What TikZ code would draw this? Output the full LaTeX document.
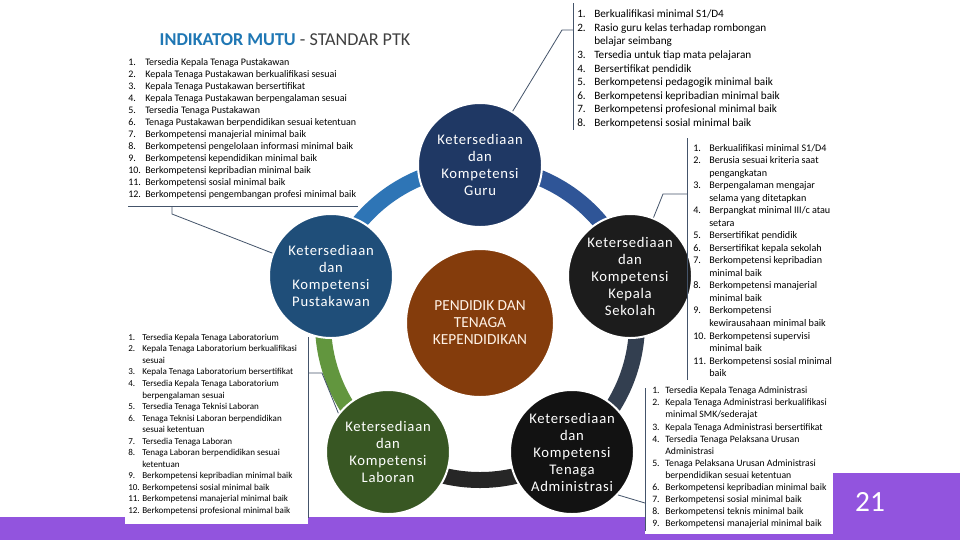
\documentclass[tikz,border=0pt]{standalone}
\usepackage{fontspec}
\setmainfont{Carlito}
\newfontfamily\spacedfont[LetterSpace=5]{Carlito}
\usepackage{tikz}
\definecolor{gurublue}{RGB}{31,56,100}
\definecolor{pusblue}{RGB}{31,78,121}
\definecolor{kepblack}{RGB}{28,28,28}
\definecolor{admblack}{RGB}{18,18,18}
\definecolor{labgreen}{RGB}{56,87,35}
\definecolor{ptkbrown}{RGB}{132,60,12}
\definecolor{ringa}{RGB}{46,117,182}
\definecolor{ringb}{RGB}{47,85,151}
\definecolor{ringc}{RGB}{51,63,80}
\definecolor{ringd}{RGB}{38,38,38}
\definecolor{ringe}{RGB}{98,150,62}
\definecolor{linegray}{RGB}{68,84,106}
\definecolor{titleblue}{RGB}{31,119,180}
\definecolor{titlegray}{RGB}{64,64,64}
\definecolor{slidepurple}{RGB}{146,84,222}
\definecolor{ptktext}{RGB}{255,242,230}

\begin{document}
\begin{tikzpicture}[x=0.75pt, y=-0.75pt,
    circ/.style={circle, draw=white, line width=1.5pt, minimum size=93pt, inner sep=0pt, text=white, align=center, font=\spacedfont\fontsize{11}{12.75}\selectfont},
    ring/.style={line width=12pt},
    lst/.style={anchor=north west, inner sep=0pt, align=left, text=black},
    brk/.style={draw=linegray, line width=0.6pt}
]
    \useasboundingbox (0,0) rectangle (960,540);
    \fill[white] (0,0) rectangle (960,540);

    % slide bar and page box
    \fill[slidepurple] (0,517) rectangle (960,540);
    \fill[slidepurple] (833,473) rectangle (960,540);
    \fill[white] (125,333) rectangle (308,524);
    \fill[white] (645,385) rectangle (833,534);

    % ring behind the circles
    \coordinate (hub) at (480,323);
    \foreach \a/\b/\c in {90/162/ringa, 18/90/ringb, -54/18/ringc, -126/-54/ringd, 162/234/ringe}
        \draw[ring, \c] (hub) ++(\a:117.75pt) arc[start angle=\a, end angle=\b, radius=117.75pt];

    \node[circ, fill=gurublue] (guru) at (480,165) {Ketersediaan\\dan\\Kompetensi\\Guru};
    \node[circ, fill=pusblue] (pustakawan) at (331,276) {Ketersediaan\\dan\\Kompetensi\\Pustakawan};
    \node[circ, fill=kepblack] (kepala) at (630,276) {Ketersediaan\\dan\\Kompetensi\\Kepala\\Sekolah};
    \node[circ, fill=admblack] (admin) at (572,452) {Ketersediaan\\dan\\Kompetensi\\Tenaga\\Administrasi};
    \node[circ, fill=labgreen] (laboran) at (388,452) {Ketersediaan\\dan\\Kompetensi\\Laboran};
    \node[circ, fill=ptkbrown, minimum size=111pt, text=ptktext, font=\fontsize{11.5}{12.75}\selectfont] (ptk) at (hub) {PENDIDIK DAN\\TENAGA\\KEPENDIDIKAN};

    \node[anchor=west, font=\fontsize{13.6}{16}\selectfont] (title) at (155,40) {\textcolor{titleblue}{\textbf{INDIKATOR MUTU}} \textcolor{titlegray}{- STANDAR PTK}};

    % lists
    \node[lst, font=\fontsize{7.5}{9}\selectfont] (pusList) at (128,57) {\begin{tabular}{@{}p{12.75pt}@{}l@{}}
        1. & Tersedia Kepala Tenaga Pustakawan\\
        2. & Kepala Tenaga Pustakawan berkualifikasi sesuai\\
        3. & Kepala Tenaga Pustakawan bersertifikat\\
        4. & Kepala Tenaga Pustakawan berpengalaman sesuai\\
        5. & Tersedia Tenaga Pustakawan\\
        6. & Tenaga Pustakawan berpendidikan sesuai ketentuan\\
        7. & Berkompetensi manajerial minimal baik\\
        8. & Berkompetensi pengelolaan informasi minimal baik\\
        9. & Berkompetensi kependidikan minimal baik\\
        10. & Berkompetensi kepribadian minimal baik\\
        11. & Berkompetensi sosial minimal baik\\
        12. & Berkompetensi pengembangan profesi minimal baik
    \end{tabular}};

    \node[lst, font=\fontsize{8.4}{10.2}\selectfont] (guruList) at (577,8) {\begin{tabular}{@{}p{12.75pt}@{}l@{}}
        1. & Berkualifikasi minimal S1/D4\\
        2. & Rasio guru kelas terhadap rombongan\\
           & belajar seimbang\\
        3. & Tersedia untuk tiap mata pelajaran\\
        4. & Bersertifikat pendidik\\
        5. & Berkompetensi pedagogik minimal baik\\
        6. & Berkompetensi kepribadian minimal baik\\
        7. & Berkompetensi profesional minimal baik\\
        8. & Berkompetensi sosial minimal baik
    \end{tabular}};

    \node[lst, font=\fontsize{7.6}{9.4}\selectfont] (kepList) at (693,142) {\begin{tabular}{@{}p{12pt}@{}l@{}}
        1. & Berkualifikasi minimal S1/D4\\
        2. & Berusia sesuai kriteria saat\\
           & pengangkatan\\
        3. & Berpengalaman mengajar\\
           & selama yang ditetapkan\\
        4. & Berpangkat minimal III/c atau\\
           & setara\\
        5. & Bersertifikat pendidik\\
        6. & Bersertifikat kepala sekolah\\
        7. & Berkompetensi kepribadian\\
           & minimal baik\\
        8. & Berkompetensi manajerial\\
           & minimal baik\\
        9. & Berkompetensi\\
           & kewirausahaan minimal baik\\
        10. & Berkompetensi supervisi\\
           & minimal baik\\
        11. & Berkompetensi sosial minimal\\
           & baik
    \end{tabular}};

    \node[lst, font=\fontsize{6.8}{8.65}\selectfont] (labList) at (128,332) {\begin{tabular}{@{}p{10.5pt}@{}l@{}}
        1. & Tersedia Kepala Tenaga Laboratorium\\
        2. & Kepala Tenaga Laboratorium berkualifikasi\\
           & sesuai\\
        3. & Kepala Tenaga Laboratorium bersertifikat\\
        4. & Tersedia Kepala Tenaga Laboratorium\\
           & berpengalaman sesuai\\
        5. & Tersedia Tenaga Teknisi Laboran\\
        6. & Tenaga Teknisi Laboran berpendidikan\\
           & sesuai ketentuan\\
        7. & Tersedia Tenaga Laboran\\
        8. & Tenaga Laboran berpendidikan sesuai\\
           & ketentuan\\
        9. & Berkompetensi kepribadian minimal baik\\
        10. & Berkompetensi sosial minimal baik\\
        11. & Berkompetensi manajerial minimal baik\\
        12. & Berkompetensi profesional minimal baik
    \end{tabular}};

    \node[lst, font=\fontsize{7.3}{9.07}\selectfont] (admList) at (652,385) {\begin{tabular}{@{}p{9.75pt}@{}l@{}}
        1. & Tersedia Kepala Tenaga Administrasi\\
        2. & Kepala Tenaga Administrasi berkualifikasi\\
           & minimal SMK/sederajat\\
        3. & Kepala Tenaga Administrasi bersertifikat\\
        4. & Tersedia Tenaga Pelaksana Urusan\\
           & Administrasi\\
        5. & Tenaga Pelaksana Urusan Administrasi\\
           & berpendidikan sesuai ketentuan\\
        6. & Berkompetensi kepribadian minimal baik\\
        7. & Berkompetensi sosial minimal baik\\
        8. & Berkompetensi teknis minimal baik\\
        9. & Berkompetensi manajerial minimal baik
    \end{tabular}};

    % callout borders and leaders
    \coordinate (pusL) at (128,206);
    \coordinate (pusR) at (358,206);
    \coordinate (pusTip) at (172,206);
    \draw[brk] (pusL) -- (pusR);
    \draw[brk] (pusTip) -- ++(0,8) -- (pustakawan);

    \coordinate (guruTop) at (573,3);
    \coordinate (guruBot) at (573,130);
    \coordinate (guruTip) at (573,30);
    \draw[brk] (guruTop) -- (guruBot);
    \draw[brk] (guruTip) -- ++(-11,0) -- (guru);

    \coordinate (kepTop) at (687,138);
    \coordinate (kepBot) at (687,380);
    \coordinate (kepTip) at (687,194);
    \draw[brk] (kepTop) -- (kepBot);
    \draw[brk] (kepTip) -- ++(-24,0) -- (kepala);

    \coordinate (labTop) at (308,337);
    \coordinate (labBot) at (308,518);
    \coordinate (labTip) at (308,373);
    \draw[brk] (labTop) -- (labBot);
    \draw[brk] (labTip) -- ++(14,0) -- (laboran.142);

    \coordinate (admTop) at (645,388);
    \coordinate (admBot) at (645,531);
    \coordinate (admTip) at (645,503);
    \draw[brk] (admTop) -- (admBot);
    \draw[brk] (admTip) -- (admin.-43);

    \node[text=white, font=\fontsize{22}{24}\selectfont] (pageNum) at (870,502) {21};
\end{tikzpicture}
\end{document}
